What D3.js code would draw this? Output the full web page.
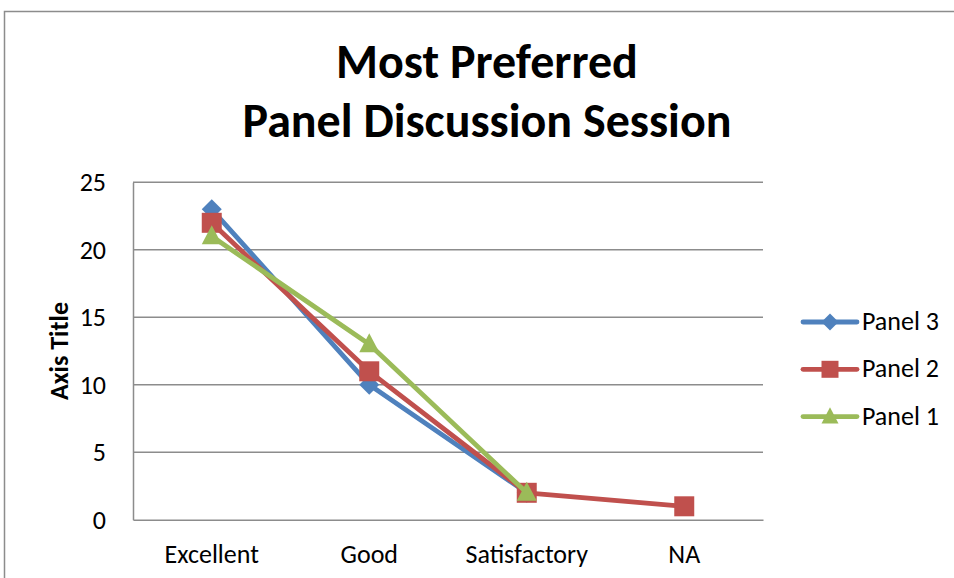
<!DOCTYPE html>
<html><head><meta charset="utf-8">
<script src="https://cdn.jsdelivr.net/npm/d3@7"></script>
<style>body{margin:0;background:#fff}svg{display:block}</style>
</head><body>
<script>
const categories = ["Excellent", "Good", "Satisfactory", "NA"];
const panel3 = [23, 10, 2, null];
const panel2 = [22, 11, 2, 1];
const panel1 = [21, 13, 2, null];
const yTicks = [0, 5, 10, 15, 20, 25];
const titleLines = ["Most Preferred", "Panel Discussion Session"];
const seriesNames = ["Panel 3", "Panel 2", "Panel 1"];

const series = [
  {name: seriesNames[0], values: panel3, color: "#4F81BD", marker: "diamond"},
  {name: seriesNames[1], values: panel2, color: "#C0504D", marker: "square"},
  {name: seriesNames[2], values: panel1, color: "#9BBB59", marker: "triangle"}
];

const W = 954, H = 578;
const font = "Carlito, Calibri, 'Open Sans', Lato, sans-serif";
const svg = d3.select("body").append("svg").attr("width", W).attr("height", H);

// chart border
svg.append("rect").attr("x", 4.5).attr("y", 11.5).attr("width", 1000).attr("height", 1000)
  .attr("fill", "none").attr("stroke", "#8c8c8c").attr("stroke-width", 1.5);

const plot = {l: 133, r: 763, t: 182.3, b: 519.8};
const x = d3.scaleBand().domain(categories).range([plot.l, plot.r]);
const y = d3.scaleLinear().domain([0, 25]).range([plot.b, plot.t]);

// gridlines
svg.append("g").selectAll("line").data(yTicks.filter(d => d > 0)).join("line")
  .attr("x1", plot.l).attr("x2", plot.r)
  .attr("y1", d => y(d)).attr("y2", d => y(d))
  .attr("stroke", "#8c8c8c").attr("stroke-width", 1.5);

// axes
const yAxis = svg.append("g").attr("transform", `translate(${plot.l},0)`)
  .call(d3.axisLeft(y).tickValues(yTicks).tickSize(0).tickPadding(27));
const xAxis = svg.append("g").attr("transform", `translate(0,${plot.b})`)
  .call(d3.axisBottom(x).tickSize(0).tickPadding(25));
[yAxis, xAxis].forEach(a => {
  a.select(".domain").attr("stroke", "#8c8c8c").attr("stroke-width", 1.5);
  a.selectAll("text").attr("font-family", font).attr("font-size", 26).attr("fill", "#000");
});

// axis title
svg.append("text").attr("transform", `translate(68,${(plot.t + plot.b) / 2}) rotate(-90)`)
  .attr("text-anchor", "middle").attr("font-family", font).attr("font-weight", "bold")
  .attr("font-size", 26).text("Axis Title");

// title
svg.append("g").selectAll("text").data(titleLines).join("text")
  .attr("x", 487).attr("y", (d, i) => 78 + i * 59)
  .attr("text-anchor", "middle").attr("font-family", font).attr("font-weight", "bold")
  .attr("font-size", 48).text(d => d);

const markerPath = (type, s) => {
  if (type === "diamond") return `M0,${-s}L${s},0L0,${s}L${-s},0Z`;
  if (type === "square") return `M${-s},${-s}H${s}V${s}H${-s}Z`;
  return `M0,${-s*1.1}L${s},${s*0.8}L${-s},${s*0.8}Z`;
};

const line = d3.line().defined(d => d.v != null)
  .x(d => x(d.c) + x.bandwidth() / 2).y(d => y(d.v));

series.forEach(s => {
  const pts = categories.map((c, i) => ({c, v: s.values[i]}));
  svg.append("path").datum(pts).attr("d", line).attr("fill", "none")
    .attr("stroke", s.color).attr("stroke-width", 4.8).attr("stroke-linejoin", "round");
  svg.append("g").selectAll("path").data(pts.filter(d => d.v != null)).join("path")
    .attr("transform", d => `translate(${x(d.c) + x.bandwidth() / 2},${y(d.v)})`)
    .attr("d", markerPath(s.marker, 10)).attr("fill", s.color);
});

// legend
const lg = svg.append("g");
series.forEach((s, i) => {
  const ly = 322 + i * 47.3;
  lg.append("line").attr("x1", 803).attr("x2", 857).attr("y1", ly).attr("y2", ly)
    .attr("stroke", s.color).attr("stroke-width", 4.8).attr("stroke-linecap", "round");
  lg.append("path").attr("transform", `translate(830,${ly})`)
    .attr("d", markerPath(s.marker, 8.5)).attr("fill", s.color);
  lg.append("text").attr("x", 862).attr("y", ly + 8).attr("font-family", font)
    .attr("font-size", 26).text(s.name);
});
</script>
</body></html>
